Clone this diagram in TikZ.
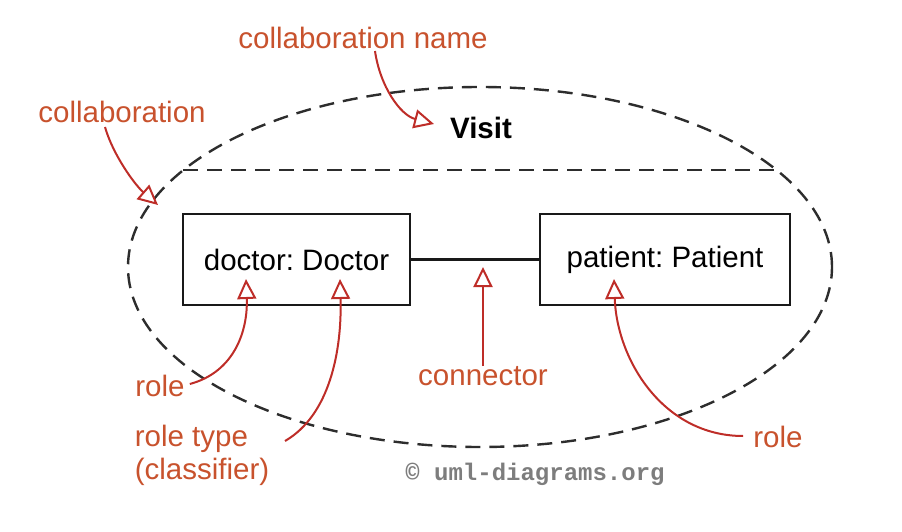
\documentclass[tikz,border=0pt]{standalone}
\usepackage{fontspec}
\setmainfont{Liberation Sans}
\newfontfamily\wmfont{Liberation Mono}
\usetikzlibrary{arrows.meta,shapes.geometric}
\definecolor{lbl}{RGB}{200,82,45}
\definecolor{arr}{RGB}{190,45,40}
\definecolor{dash}{RGB}{45,45,45}
\definecolor{wm}{RGB}{125,125,125}
\begin{document}
\begin{tikzpicture}[x=1pt,y=-1pt,
  every node/.style={font=\fontsize{29.5}{33}\selectfont\frenchspacing},
  lbltext/.style={text=lbl, inner sep=0pt},
  rolebox/.style={draw=black!90, line width=2.2pt, minimum height=91pt, inner sep=0pt},
  callout/.style={draw=arr, line width=2pt, -{Triangle[open,length=20pt,width=19pt,line width=2pt]}},
  dashline/.style={draw=dash, line width=2.4pt, dash pattern=on 15pt off 9pt}]
\useasboundingbox (0,0) rectangle (902,532);
% collaboration ellipse
\node[ellipse, dashline, minimum width=704pt, minimum height=360pt, inner sep=0pt] (collab) at (480,267) {};
\draw[dashline] (183,170) coordinate (sepL) -- (778,170) coordinate (sepR);
\node[font=\fontsize{29.5}{33}\selectfont\bfseries, inner sep=0pt] (visit) at (481,128) {Visit};
% roles
\node[rolebox, minimum width=227pt] (doctor) at (296.5,259.5) {doctor: Doctor};
\node[rolebox, minimum width=250pt] (patient) at (665,259.5) {patient: Patient};
\draw[black!90, line width=2.2pt] (doctor.east) -- (patient.west);
% labels
\node[lbltext] (lcname) at (363,38) {collaboration name};
\node[lbltext] (lcollab) at (122,112) {collaboration};
\node[lbltext] (lrole1) at (160,386) {role};
\node[lbltext, align=left] (lroletype) at (202,455) {role type\\(classifier)};
\node[lbltext] (lconn) at (483,376) {connector};
\node[lbltext] (lrole2) at (778,437) {role};
% tips
\coordinate (tcname) at (434,124);
\coordinate (tcollab) at (158,205);
\coordinate (trole1) at (246,279);
\coordinate (troletype) at (340,279);
\coordinate (tconn) at (483,267);
\coordinate (trole2) at (614,279);
% callouts
\draw[callout] (lcname.south)++(12,2) .. controls +(5,35) and (400,115) .. (tcname);
\draw[callout] (lcollab.south)++(-17,4) .. controls +(8,28) and (135,185) .. (tcollab);
\draw[callout] (lrole1.east)++(5,-2) .. controls +(45,-12) and (248,330) .. (trole1);
\draw[callout] (285,441) .. controls (330,415) and (342,350) .. (troletype);
\draw[callout] (lconn.north) -- (tconn);
\draw[callout] (lrole2.west)++(-10,-1) .. controls +(-80,0) and (617,360) .. (trole2);
% watermark
\node[font=\fontsize{24}{26}\selectfont\wmfont\bfseries, text=wm, inner sep=0pt] (wmark) at (535,474) {© uml-diagrams.org};
\end{tikzpicture}
\end{document}
